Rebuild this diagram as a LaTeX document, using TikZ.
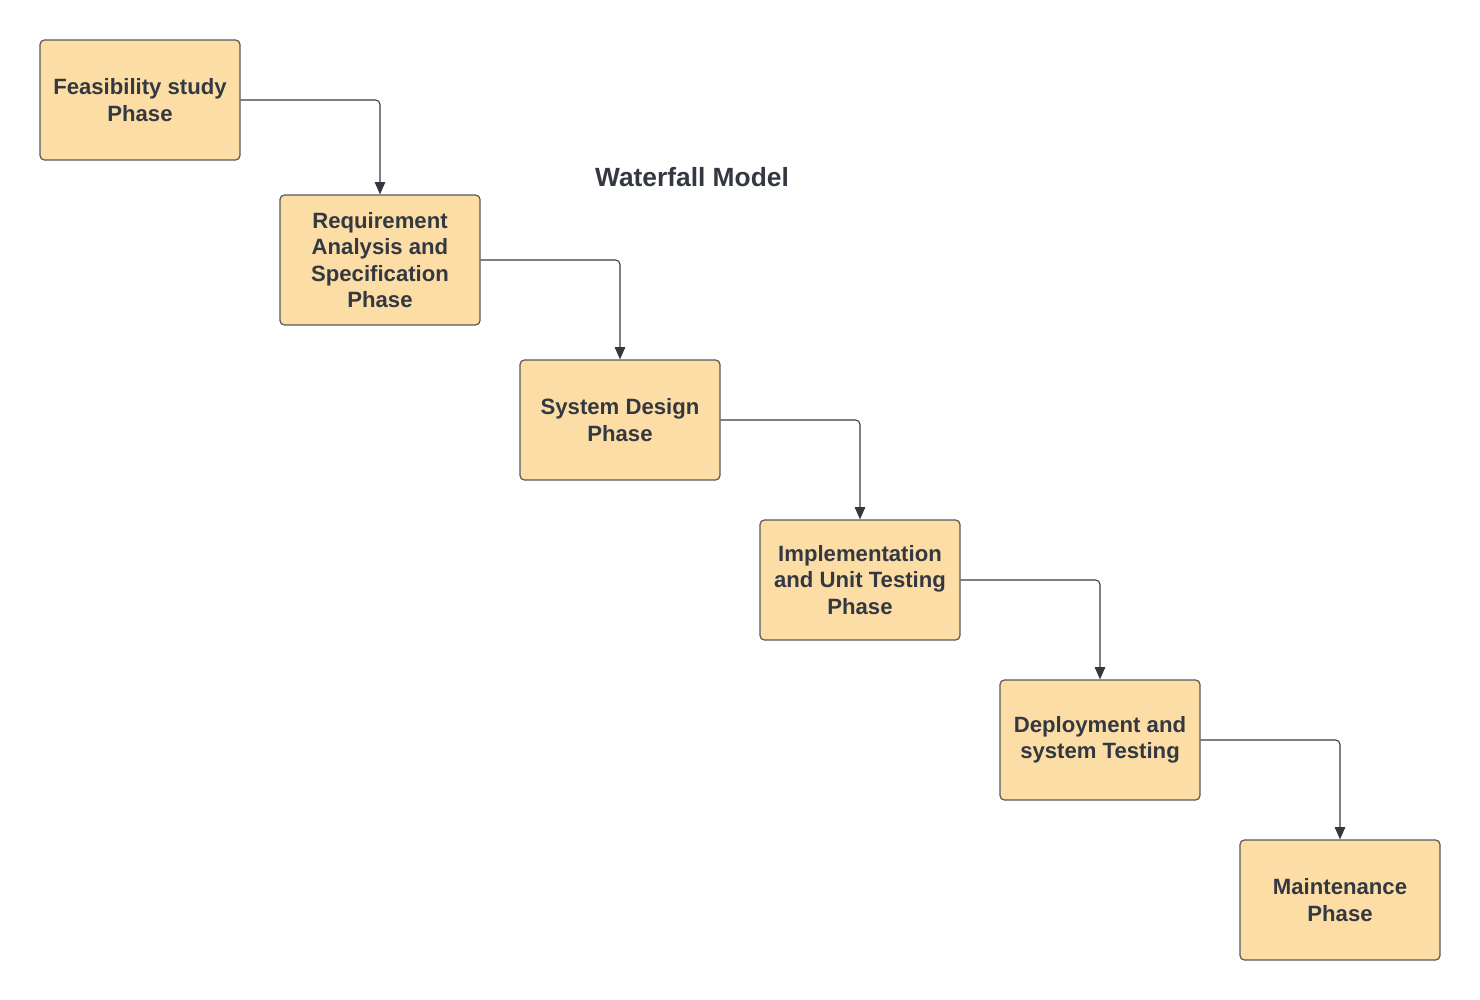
\documentclass[tikz,border=0pt]{standalone}
\usepackage{fontspec}
\setmainfont{Liberation Sans}
\usepackage{tikz}
\usetikzlibrary{arrows.meta, positioning}
\definecolor{PhaseFill}{RGB}{252,221,165}
\definecolor{PhaseLine}{RGB}{88,88,88}
\definecolor{InkGray}{RGB}{52,57,65}

\tikzset{
	phase/.style={draw=PhaseLine, fill=PhaseFill, line width=0.7pt, rounded corners=2.5pt,
		minimum width=4cm, minimum height=2.4cm, align=center, text=InkGray,
		font=\fontsize{12.6}{15.1}\selectfont\bfseries, inner sep=0pt},
	flow/.style={draw=InkGray, line width=0.6pt, rounded corners=2.5pt,
		-{Triangle[length=7pt, width=6pt]}}
}

\begin{document}
\begin{tikzpicture}[x=0.02cm, y=-0.02cm]
			\useasboundingbox (0,0) rectangle (1480,1000);
			\node[phase] (feas) at (140,100) {Feasibility study\\Phase};
			\node[phase, minimum height=2.6cm] (req) at (380,260) {Requirement\\Analysis and\\Specification\\Phase};
			\node[phase] (design) at (620,420) {System Design\\Phase};
			\node[phase] (impl) at (860,580) {Implementation\\and Unit Testing\\Phase};
			\node[phase] (deploy) at (1100,740) {Deployment and\\system Testing};
			\node[phase] (maint) at (1340,900) {Maintenance\\Phase};
			\node[text=InkGray, font=\fontsize{15}{18}\selectfont\bfseries] (title) at (692,177) {Waterfall Model};
			\draw[flow] (feas.east) -| (req.north);
			\draw[flow] (req.east) -| (design.north);
			\draw[flow] (design.east) -| (impl.north);
			\draw[flow] (impl.east) -| (deploy.north);
			\draw[flow] (deploy.east) -| (maint.north);
		\end{tikzpicture}
\end{document}
